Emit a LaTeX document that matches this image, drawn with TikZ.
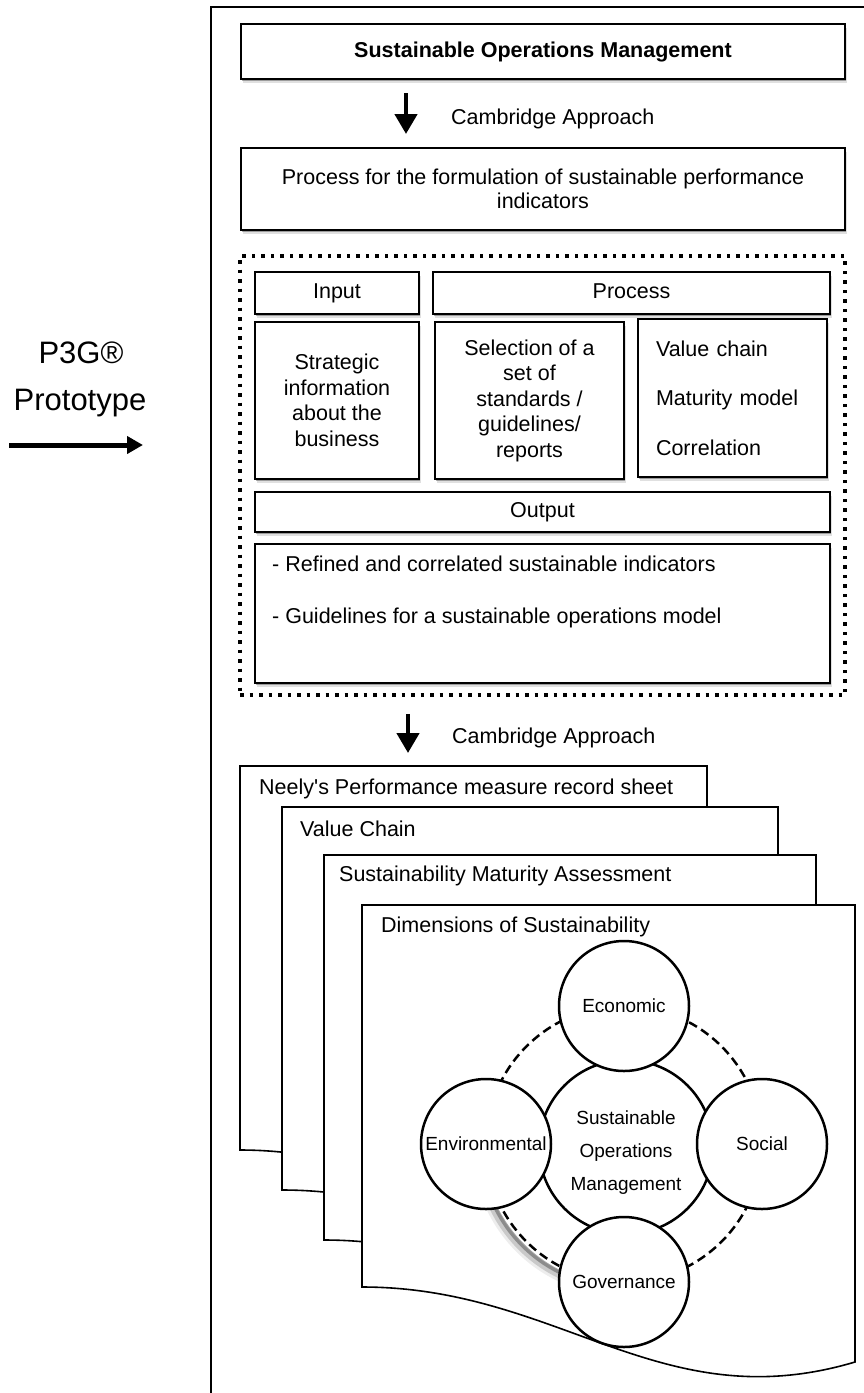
\documentclass[tikz,border=0pt]{standalone}
\usepackage{fontspec}
\setmainfont{Liberation Sans}
\usepackage{tikz}
\usetikzlibrary{shapes, arrows.meta, positioning, calc, shadows}

\newcommand{\bodysize}{\fontsize{21.5}{25.5}\selectfont}
\newcommand{\dimsize}{\fontsize{19}{33}\selectfont}
\newcommand{\sidesize}{\fontsize{31}{36}\selectfont}

\tikzset{
  box/.style={draw, line width=2pt, fill=white, inner sep=0pt, font=\bodysize,
    drop shadow={shadow xshift=1pt, shadow yshift=-2pt, opacity=.3, fill=black},
    drop shadow={shadow xshift=2pt, shadow yshift=-4pt, opacity=.12, fill=black}},
  head/.style={box, text height=15.5pt, text depth=4.5pt},
  lbl/.style={inner sep=0pt, font=\bodysize},
  bigarrow/.style={line width=4.5pt, -{Triangle[width=22pt, length=20pt]}},
  sheet/.style={draw, line width=1.6pt, fill=white},
  sheettitle/.style={anchor=west, inner sep=0pt, font=\bodysize},
  dimring/.style={circle, draw, line width=2.5pt, dash pattern=on 9pt off 5pt, minimum size=276pt},
  dimcircle/.style={circle, draw, line width=2.5pt, fill=white, minimum size=130pt,
    inner sep=0pt, font=\dimsize, align=center}
}

\begin{document}
\begin{tikzpicture}[x=1pt, y=-1pt]
  \useasboundingbox (0,0) rectangle (864,1393);
  \fill[white] (0,0) rectangle (864,1393);

  % prototype pointer on the left
  \node[lbl, font=\sidesize, anchor=base] (pthreeg) at (81,363) {P3G®};
  \node[lbl, font=\sidesize, anchor=base] (proto) at (80,410) {Prototype};
  \coordinate (protostart) at (9,445);
  \coordinate (protoend) at (143,445);
  \draw[line width=5pt, -{Triangle[width=17pt, length=16pt]}] (protostart) -- (protoend);

  % frame
  \draw[line width=2pt] (870,7) -- (211,7) -- (211,1400);

  \node[head, minimum width=604pt, minimum height=55pt, font=\bodysize\bfseries] (title) at (543,51.5) {Sustainable Operations Management};
  \node[box, minimum width=604pt, minimum height=82pt, align=center] (formul) at (543,189) {Process for the formulation of sustainable performance\\[-2pt]indicators};
  \draw[bigarrow] ([xshift=-137pt, yshift=-13pt]title.south) -- ([xshift=-137pt, yshift=13pt]formul.north);
  \node[lbl, anchor=west] (camtop) at (451,119) {Cambridge Approach};

  \node[draw, line width=3.5pt, dash pattern=on 3.5pt off 6pt, minimum width=605pt, minimum height=439pt] (procframe) at (542.5,475.5) {};
  \node[head, minimum width=164pt, minimum height=42pt] (input) at (337,293) {Input};
  \node[head, minimum width=397pt, minimum height=42pt] (process) at (631.5,293) {Process};
  \node[box, minimum width=164pt, minimum height=157pt, align=center] (strategic) at (337,400.5) {Strategic\\information\\about the\\business};
  \node[box, minimum width=189pt, minimum height=157pt, align=center] (selection) at (529.5,400.5) {Selection of a\\set of\\standards /\\guidelines/\\reports};
  \node[box, minimum width=189pt, minimum height=158pt, inner xsep=18pt, text width=153pt, align=left, font=\fontsize{21.5}{49.5}\selectfont] (valuebox) at (732.5,398) {Value chain\\Maturity model\\Correlation};
  \node[head, minimum width=575pt, minimum height=40pt] (output) at (542.5,512) {Output};
  \node[box, minimum width=575pt, minimum height=139pt] (outbody) at (542.5,613.5) {};
  \node[lbl, anchor=base west] (refined) at (272,571) {- Refined and correlated sustainable indicators};
  \node[lbl, anchor=base west] (guide) at (272,623) {- Guidelines for a sustainable operations model};

  \coordinate (sheettop) at (408,766);
  \draw[bigarrow] ([xshift=-134.5pt, yshift=-17pt]procframe.south) -- ([yshift=13pt]sheettop);
  \node[lbl, anchor=west] (cambottom) at (452,738) {Cambridge Approach};

  % stacked sheets
  \draw[sheet] (240,766) -- (707,766) -- (707,1221) .. controls +(-185,55) and +(187,0) .. (240,1150) -- cycle;
  \draw[sheet] (282,807) -- (778,807) -- (778,1265) .. controls +(-196,59) and +(198,0) .. (282,1190) -- cycle;
  \draw[sheet] (324,855) -- (816,855) -- (816,1315) .. controls +(-195,58) and +(197,0) .. (324,1240) -- cycle;
  \draw[sheet] (362,905) -- (855,905) -- (855,1362) .. controls +(-195,58) and +(198,0) .. (362,1287) -- cycle;
  \node[sheettitle] (neely) at (259,789) {Neely\textquotesingle s Performance measure record sheet};
  \node[sheettitle] (vchain) at (300,829) {Value Chain};
  \node[sheettitle] (matur) at (339,876) {Sustainability Maturity Assessment};
  \node[sheettitle] (dims) at (381,927) {Dimensions of Sustainability};

  % dimensions of sustainability
  \coordinate (hub) at (624,1144);
  \begin{scope}
    \clip (hub) rectangle ++(-175,175);
    \draw[black, opacity=.07, line width=11pt] ([shift={(-2,2)}]hub) circle (144pt);
    \draw[black, opacity=.15, line width=7pt] ([shift={(-2,2)}]hub) circle (143pt);
    \draw[black, opacity=.3, line width=4pt] ([shift={(-1,1)}]hub) circle (142pt);
  \end{scope}
  \node[dimring] (ring) at (hub) {};
  \node[dimcircle, minimum size=174pt] (som) at (626,1147) {};
  \node[inner sep=0pt, font=\dimsize, align=center] (somtext) at ([yshift=-6pt]som.center) {Sustainable\\Operations\\Management};
  \node[dimcircle] (econ) at (624,1006) {Economic};
  \node[dimcircle] (env) at (486,1144) {Environmental};
  \node[dimcircle] (soc) at (762,1144) {Social};
  \node[dimcircle] (gov) at (624,1282) {Governance};
\end{tikzpicture}
\end{document}
